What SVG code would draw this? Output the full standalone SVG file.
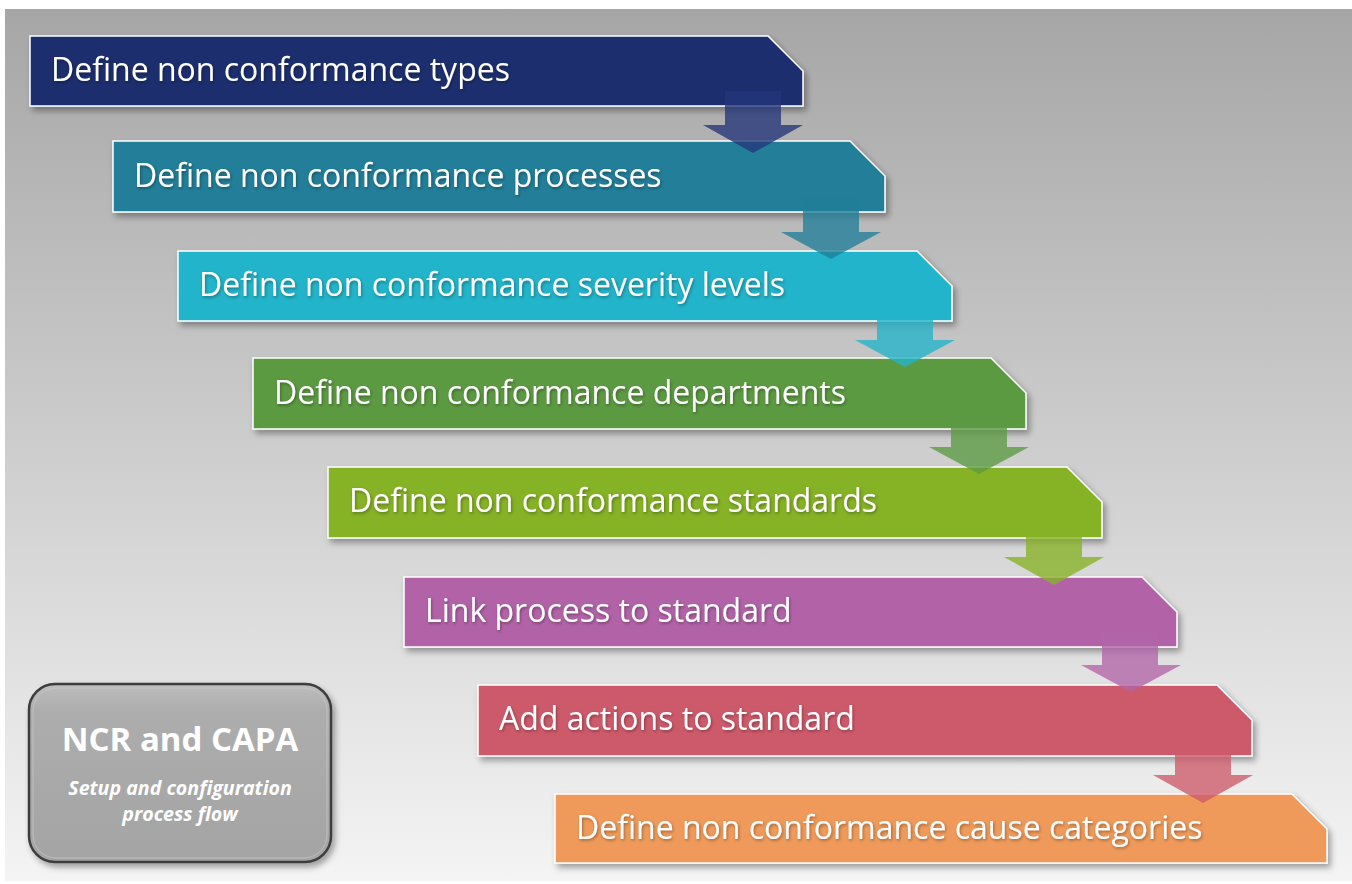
<svg xmlns="http://www.w3.org/2000/svg" width="1352" height="884" viewBox="0 0 1352 884">
<defs>
<linearGradient id="bg" x1="0" y1="0" x2="0" y2="1">
<stop offset="0" stop-color="#a6a6a6"/>
<stop offset="1" stop-color="#f4f4f4"/>
</linearGradient>
<linearGradient id="ncr" x1="0" y1="0" x2="0" y2="1">
<stop offset="0" stop-color="#bdbdbd"/>
<stop offset="0.15" stop-color="#adadad"/>
<stop offset="1" stop-color="#a4a4a4"/>
</linearGradient>
<filter id="sh" x="-5%" y="-20%" width="112%" height="150%">
<feDropShadow dx="3" dy="4" stdDeviation="3" flood-color="#000" flood-opacity="0.35"/>
</filter>
<filter id="tsh" x="-5%" y="-30%" width="110%" height="160%">
<feDropShadow dx="1" dy="1.5" stdDeviation="1.5" flood-color="#000" flood-opacity="0.35"/>
</filter>
</defs>
<style>
.box{stroke:#ffffff;stroke-width:1.5;filter:url(#sh)}
.lbl{font-family:"Open Sans","Noto Sans","DejaVu Sans",sans-serif;font-size:32px;fill:#ffffff;filter:url(#tsh)}
.arr{opacity:0.78}
.t1{font-family:"Open Sans","Noto Sans",sans-serif;font-weight:bold;font-size:33px;fill:#ffffff}
.t2{font-family:"Open Sans","Noto Sans",sans-serif;font-weight:bold;font-style:italic;font-size:19.6px;fill:#ffffff}
</style>
<rect x="5" y="9" width="1347" height="872" fill="url(#bg)"/>

<g id="node1"><path class="box" fill="#1f2e6e" d="M30,36 H768 L803,71 V106 H30 Z"/><text class="lbl" x="51" y="81">Define non conformance types</text></g>
<g id="node2"><path class="box" fill="#217e99" d="M113,141 H850 L885,176 V212 H113 Z"/><text class="lbl" x="134" y="187">Define non conformance processes</text></g>
<g id="node3"><path class="box" fill="#22b4ca" d="M178,251 H917 L952,286 V321 H178 Z"/><text class="lbl" x="199" y="296">Define non conformance severity levels</text></g>
<g id="node4"><path class="box" fill="#5b9a42" d="M253,358 H991 L1026,393 V429 H253 Z"/><text class="lbl" x="274" y="404">Define non conformance departments</text></g>
<g id="node5"><path class="box" fill="#86b226" d="M328,467 H1067 L1102,502 V538 H328 Z"/><text class="lbl" x="349" y="512">Define non conformance standards</text></g>
<g id="node6"><path class="box" fill="#b264a8" d="M404,577 H1142 L1177,612 V647 H404 Z"/><text class="lbl" x="425" y="622">Link process to standard</text></g>
<g id="node7"><path class="box" fill="#cd5a6a" d="M478,685 H1217 L1252,720 V756 H478 Z"/><text class="lbl" x="499" y="730">Add actions to standard</text></g>
<g id="node8"><path class="box" fill="#ef9a5a" d="M555,794 H1292 L1327,829 V863 H555 Z"/><text class="lbl" x="576" y="839">Define non conformance cause categories</text></g>

<g id="connectors">
<path class="arr" fill="#24347a" d="M725,91 H781 V125 H803 L753,153 L703,125 H725 Z"/>
<path class="arr" fill="#217e99" d="M803,197 H859 V232 H881 L831,259 L781,232 H803 Z"/>
<path class="arr" fill="#22b4ca" d="M877,306 H933 V340 H955 L905,367 L855,340 H877 Z"/>
<path class="arr" fill="#5b9a42" d="M951,414 H1007 V447 H1029 L979,474 L929,447 H951 Z"/>
<path class="arr" fill="#86b226" d="M1026,523 H1082 V557 H1104 L1054,585 L1004,557 H1026 Z"/>
<path class="arr" fill="#b264a8" d="M1102,632 H1158 V665 H1181 L1131,692 L1081,665 H1102 Z"/>
<path class="arr" fill="#cd5a6a" d="M1175,741 H1231 V775 H1253 L1203,803 L1153,775 H1175 Z"/>
</g>

<g id="title">
<rect x="29" y="684" width="302" height="178" rx="26" ry="26" fill="url(#ncr)" stroke="#3c3c3c" stroke-width="2.5" filter="url(#sh)"/>
<rect x="33" y="688" width="294" height="170" rx="23" ry="23" fill="none" stroke="#cfcfcf" stroke-width="1" opacity="0.6"/>
<text class="t1" x="180" y="751" text-anchor="middle">NCR and CAPA</text>
<text class="t2" text-anchor="middle"><tspan x="180" y="795">Setup and configuration</tspan><tspan x="180" y="821">process flow</tspan></text>
</g>
</svg>
